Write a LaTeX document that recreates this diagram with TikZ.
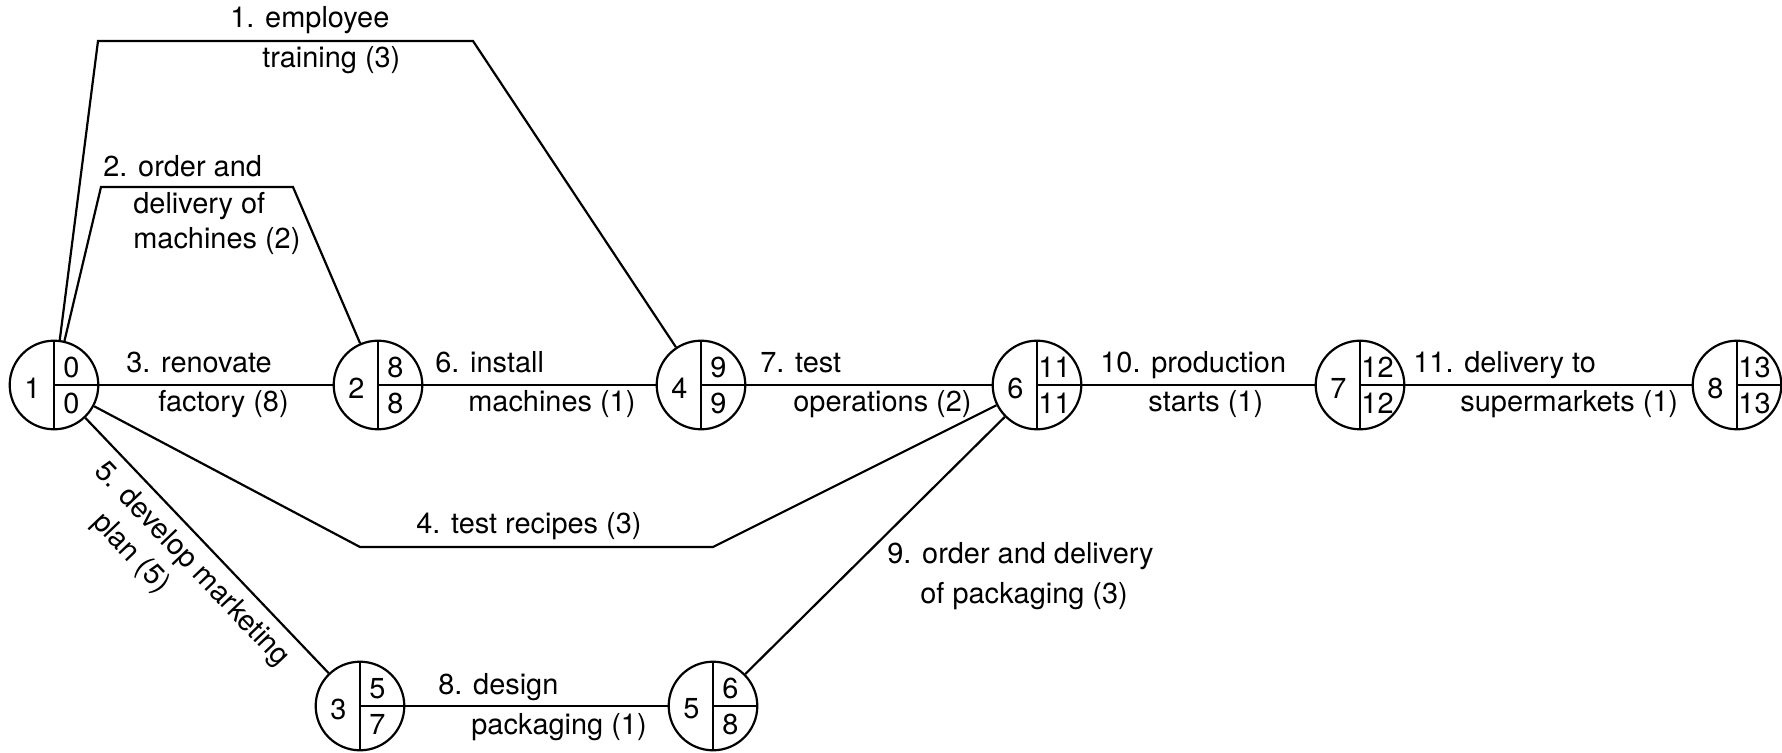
\documentclass[tikz,border=0pt]{standalone}
\usepackage{fontspec}
\setmainfont{TeX Gyre Heros}
\usepackage{tikz}
\usetikzlibrary{positioning}

\tikzset{
  event/.style={circle, draw, line width=1.1pt, minimum size=44.3pt, inner sep=0pt},
  evnum/.style={inner sep=0pt, font=\fontsize{14.45}{17}\selectfont},
  act/.style={anchor=base west, inner sep=0pt, font=\fontsize{14.45}{17}\selectfont},
  activity/.style={line width=1.1pt},
}

\newcommand{\netnode}[5]{%
  \node[event] (#1) at (#2) {};
  \draw[activity] (#1.north) -- (#1.south) (#1.center) -- (#1.east);
  \node[evnum] (#1id) at ([xshift=-10.75pt,yshift=-1.5pt]#1.center) {#3};
  \node[evnum] (#1es) at ([xshift=8.75pt,yshift=8.75pt]#1.center) {#4};
  \node[evnum] (#1ls) at ([xshift=8.75pt,yshift=-9.25pt]#1.center) {#5};
}

\begin{document}
\begin{tikzpicture}[x=0.5pt, y=-0.5pt]
\useasboundingbox (0,0) rectangle (1782,753);

\netnode{n1}{54,385}{1}{0}{0}
\netnode{n2}{378,385}{2}{8}{8}
\netnode{n3}{360,706}{3}{5}{7}
\netnode{n4}{701,385}{4}{9}{9}
\netnode{n5}{713,706}{5}{6}{8}
\netnode{n6}{1037,385}{6}{11}{11}
\netnode{n7}{1360,385}{7}{12}{12}
\netnode{n8}{1737,385}{8}{13}{13}

\draw[activity] (n1) -- (98,41) -- (473,41) -- (n4);
\draw[activity] (n1) -- (101,187) -- (293,187) -- (n2);
\draw[activity] (n1) -- (n2);
\draw[activity] (n1) -- (360,547) -- (713,547) -- (n6);
\draw[activity] (n1) -- (n3);
\draw[activity] (n2) -- (n4);
\draw[activity] (n4) -- (n6);
\draw[activity] (n3) -- (n5);
\draw[activity] (n5) -- (n6);
\draw[activity] (n6) -- (n7);
\draw[activity] (n7) -- (n8);

\node[act] (t1a) at (230,28) {1. employee};
\node[act] (t1b) at (262,68) {training (3)};
\node[act] (t2a) at (103,177) {2. order and};
\node[act] (t2b) at (133,214) {delivery of};
\node[act] (t2c) at (133,249) {machines (2)};
\node[act] (t3a) at (126,372) {3. renovate};
\node[act] (t3b) at (158,411) {factory (8)};
\node[act] (t4) at (416,533) {4. test recipes (3)};
\node[act, rotate=-46.4] (t5a) at (93,472) {5. develop marketing};
\node[act, rotate=-46.4] (t5b) at (91,523) {plan (5)};
\node[act] (t6a) at (435,372) {6. install};
\node[act] (t6b) at (468,411) {machines (1)};
\node[act] (t7a) at (760,372) {7. test};
\node[act] (t7b) at (793,411) {operations (2)};
\node[act] (t8a) at (438,694) {8. design};
\node[act] (t8b) at (471,734) {packaging (1)};
\node[act] (t9a) at (887,563) {9. order and delivery};
\node[act] (t9b) at (920,603) {of packaging (3)};
\node[act] (t10a) at (1100,372) {10. production};
\node[act] (t10b) at (1148,411) {starts (1)};
\node[act] (t11a) at (1413,372) {11. delivery to};
\node[act] (t11b) at (1460,411) {supermarkets (1)};
\end{tikzpicture}
\end{document}
